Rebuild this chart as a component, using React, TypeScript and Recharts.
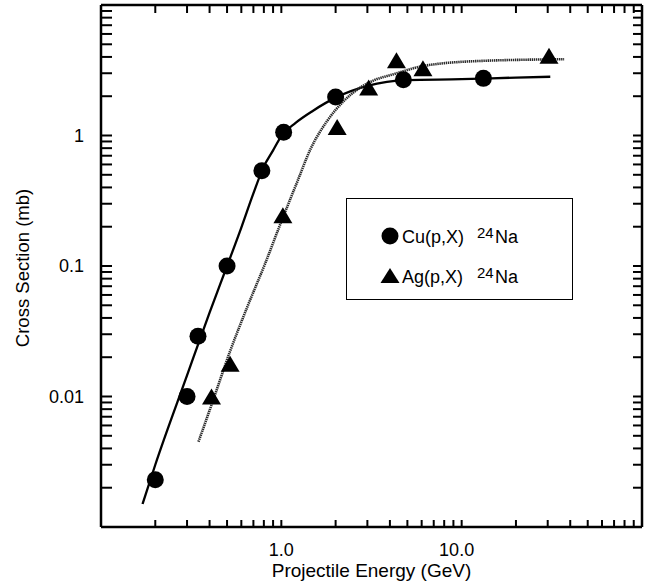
import { ComposedChart, Line, Scatter, XAxis, YAxis, Legend, Label } from 'recharts'

const FONT = '"Liberation Sans", Arial, Helvetica, sans-serif'

// measured points (GeV, mb)
const cuEnergy = [0.2, 0.3, 0.345, 0.5, 0.78, 1.03, 2.0, 4.75, 13.2]
const cuSigma = [0.0023, 0.01, 0.029, 0.1, 0.536, 1.06, 1.97, 2.67, 2.74]
const agEnergy = [0.41, 0.52, 1.02, 2.04, 3.05, 4.35, 6.1, 30.5]
const agSigma = [0.01, 0.0178, 0.245, 1.16, 2.33, 3.78, 3.28, 4.08]

// curves as drawn in the figure
const cuFitEnergy = [0.17, 0.2, 0.3, 0.4, 0.5, 0.6, 0.7, 0.8, 0.9, 1.0, 1.2, 1.5, 2, 3, 5, 10, 20, 31]
const cuFitSigma = [0.0015, 0.003, 0.0145, 0.044, 0.1, 0.197, 0.36, 0.58, 0.77, 0.99, 1.25, 1.55, 1.95, 2.4, 2.66, 2.7, 2.78, 2.82]
const agFitEnergy = [0.347, 0.411, 0.519, 0.655, 0.81, 1.0, 1.21, 1.46, 1.8, 2.23, 2.7, 3.27, 4.2, 6.2, 12.9, 37]
const agFitSigma = [0.0045, 0.0087, 0.0221, 0.0505, 0.103, 0.219, 0.423, 0.8, 1.3, 1.85, 2.3, 2.65, 2.95, 3.42, 3.73, 3.84]

const xTicks = [0.2, 0.3, 0.4, 0.5, 0.6, 0.7, 0.8, 0.9, 1, 2, 3, 4, 5, 6, 7, 8, 9, 10, 20, 30, 40, 50, 60, 70, 80, 90]
const xTickLabels: Record<string, string> = { '1': '1.0', '10': '10.0' }
const yTicks = [
  0.002, 0.003, 0.004, 0.005, 0.006, 0.007, 0.008, 0.009, 0.01,
  0.02, 0.03, 0.04, 0.05, 0.06, 0.07, 0.08, 0.09, 0.1,
  0.2, 0.3, 0.4, 0.5, 0.6, 0.7, 0.8, 0.9, 1,
  2, 3, 4, 5, 6, 7, 8, 9,
]
const yTickLabels: Record<string, string> = { '0.01': '0.01', '0.1': '0.1', '1': '1' }

const legendItems = [
  { target: 'Cu(p,X)', shape: 'circle' },
  { target: 'Ag(p,X)', shape: 'triangle' },
]

const toPoints = (xs: number[], ys: number[]) => xs.map((x, i) => ({ x, y: ys[i] }))
const cuPoints = toPoints(cuEnergy, cuSigma)
const agPoints = toPoints(agEnergy, agSigma)
const cuCurve = toPoints(cuFitEnergy, cuFitSigma)
const agCurve = toPoints(agFitEnergy, agFitSigma)

const axisLine = { stroke: '#000', strokeWidth: 2.5 }

function BottomTick({ x, y, payload }: any) {
  const label = xTickLabels[String(payload.value)]
  return (
    <g>
      <line x1={x} x2={x} y1={y} y2={y - 7} stroke="#000" strokeWidth={2} />
      {label && (
        <text x={x + 12.5} y={y + 29} textAnchor="end" fontSize={18} fontFamily={FONT} fill="#000">
          {label}
        </text>
      )}
    </g>
  )
}

function TopTick({ x, y }: any) {
  return <line x1={x} x2={x} y1={y} y2={y + 8} stroke="#000" strokeWidth={2} />
}

function LeftTick({ x, y, payload }: any) {
  const label = yTickLabels[String(payload.value)]
  return (
    <g>
      <line x1={x} x2={x + 11} y1={y} y2={y} stroke="#000" strokeWidth={2} />
      {label && (
        <text x={x - 17} y={y + 6} textAnchor="end" fontSize={18} fontFamily={FONT} fill="#000">
          {label}
        </text>
      )}
    </g>
  )
}

function RightTick({ x, y }: any) {
  return <line x1={x} x2={x - 9} y1={y} y2={y} stroke="#000" strokeWidth={2} />
}

function XTitle({ viewBox }: any) {
  return (
    <text x={viewBox.x + viewBox.width / 2} y={viewBox.y + 50} textAnchor="middle" fontSize={19} fontFamily={FONT} fill="#000">
      Projectile Energy (GeV)
    </text>
  )
}

function YTitle({ viewBox }: any) {
  const cx = 29
  const cy = viewBox.y + viewBox.height / 2 + 2
  return (
    <text x={cx} y={cy} transform={`rotate(-90 ${cx} ${cy})`} textAnchor="middle" fontSize={18.5} fontFamily={FONT} fill="#000">
      Cross Section (mb)
    </text>
  )
}

const renderCircle = (p: any) => <circle cx={p.cx} cy={p.cy} r={8.5} fill="#000" />
const renderTriangle = (p: any) => (
  <polygon points={`${p.cx},${p.cy - 8} ${p.cx - 9.5},${p.cy + 8} ${p.cx + 9.5},${p.cy + 8}`} fill="#000" />
)

function LegendBox() {
  return (
    <div style={{ width: 225, height: 100, border: '1.5px solid #000', background: '#fff' }}>
      <svg width={225} height={100}>
        {legendItems.map((item, i) => {
          const cy = 37 + i * 40
          return (
            <g key={item.target}>
              {item.shape === 'circle'
                ? <circle cx={43} cy={cy} r={8.5} fill="#000" />
                : <polygon points={`43,${cy - 8} 33.5,${cy + 7} 52.5,${cy + 7}`} fill="#000" />}
              <text x={55} y={cy + 7} fontSize={18} fontFamily={FONT} fill="#000">
                {item.target}
                <tspan x={130} dy={-5} fontSize={15}>24</tspan>
                <tspan x={148} dy={5} fontSize={18}>Na</tspan>
              </text>
            </g>
          )
        })}
      </svg>
    </div>
  )
}

export default function App() {
  return (
    <div style={{ position: 'absolute', left: 0, top: 0, background: '#fff' }}>
      <ComposedChart width={648} height={583} margin={{ top: 4, right: 5, bottom: 0, left: 0 }}>
        <XAxis
          type="number"
          dataKey="x"
          scale="log"
          domain={[0.1, 100]}
          allowDataOverflow
          ticks={xTicks}
          interval={0}
          tickSize={0}
          tickMargin={0}
          tickLine={false}
          axisLine={axisLine}
          tick={(p: any) => <BottomTick {...p} />}
          height={56}
        >
          <Label content={XTitle} />
        </XAxis>
        <XAxis
          xAxisId="top"
          orientation="top"
          type="number"
          dataKey="x"
          scale="log"
          domain={[0.1, 100]}
          allowDataOverflow
          ticks={xTicks}
          interval={0}
          tickSize={0}
          tickMargin={0}
          tickLine={false}
          axisLine={axisLine}
          tick={(p: any) => <TopTick {...p} />}
          height={1}
        />
        <YAxis
          type="number"
          dataKey="y"
          scale="log"
          domain={[0.001, 10]}
          allowDataOverflow
          ticks={yTicks}
          interval={0}
          tickSize={0}
          tickMargin={0}
          tickLine={false}
          axisLine={axisLine}
          tick={(p: any) => <LeftTick {...p} />}
          width={101}
        >
          <Label content={YTitle} />
        </YAxis>
        <YAxis
          yAxisId="right"
          orientation="right"
          type="number"
          dataKey="y"
          scale="log"
          domain={[0.001, 10]}
          allowDataOverflow
          ticks={yTicks}
          interval={0}
          tickSize={0}
          tickMargin={0}
          tickLine={false}
          axisLine={axisLine}
          tick={(p: any) => <RightTick {...p} />}
          width={1}
        />
        {/* invisible series so the frame axes on top / right get a scale */}
        <Line xAxisId="top" yAxisId="right" data={cuCurve} dataKey="y" stroke="none" dot={false} activeDot={false} legendType="none" isAnimationActive={false} />
        <Line data={cuCurve} dataKey="y" type="monotone" stroke="#000" strokeWidth={2.3} dot={false} activeDot={false} isAnimationActive={false} />
        <Line data={agCurve} dataKey="y" type="monotone" stroke="#2a2a2a" strokeWidth={2.6} strokeDasharray="1.4 0.7" dot={false} activeDot={false} isAnimationActive={false} />
        <Scatter data={cuPoints} dataKey="y" shape={renderCircle} isAnimationActive={false} />
        <Scatter data={agPoints} dataKey="y" shape={renderTriangle} isAnimationActive={false} />
        <Legend
          layout="vertical"
          verticalAlign="middle"
          align="center"
          wrapperStyle={{ left: 346, top: 198, width: 228, height: 103 }}
          content={() => <LegendBox />}
        />
      </ComposedChart>
    </div>
  )
}
